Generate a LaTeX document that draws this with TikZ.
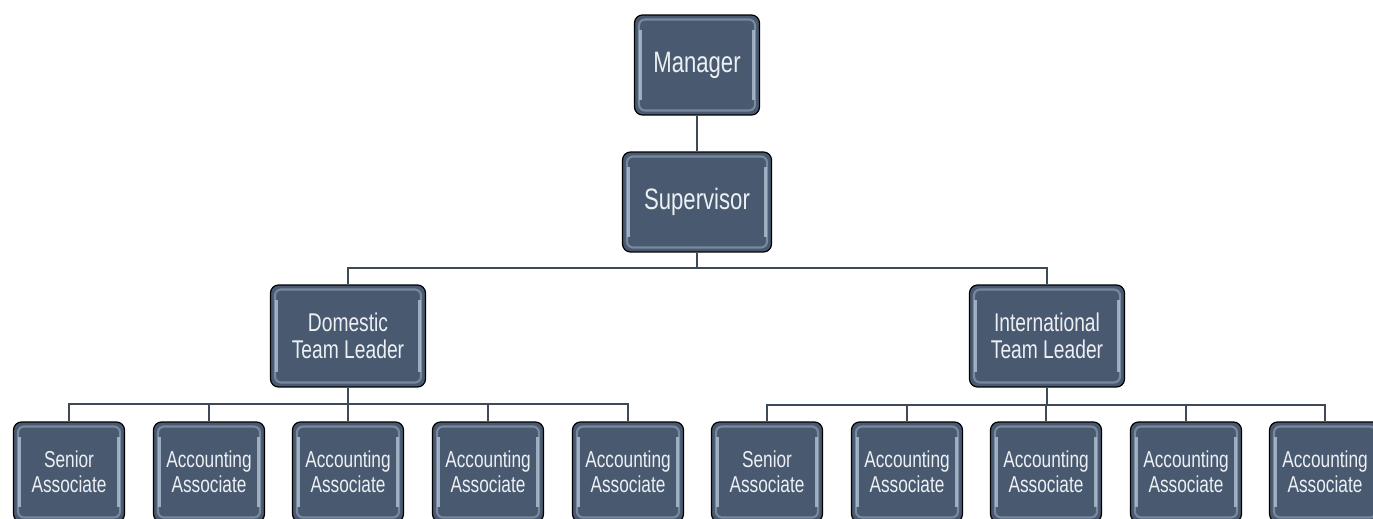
\documentclass[tikz,border=0pt]{standalone}
\usepackage{fontspec}
\newfontfamily\boxfont[FakeStretch=0.75]{Liberation Sans}
\usetikzlibrary{positioning,calc}
\definecolor{boxfill}{RGB}{73,89,112}
\definecolor{boxtext}{RGB}{236,240,244}
\definecolor{linkgray}{RGB}{62,74,88}
\definecolor{bevel}{RGB}{178,194,212}

\begin{document}
\begin{tikzpicture}[x=0.02cm,y=-0.02cm,
  post/.style={draw=black,line width=0.7pt,fill=boxfill,rounded corners=0.16cm,
    text=boxtext,align=center,inner sep=1pt,
    path picture={
      \draw[bevel,line width=1.2pt,rounded corners=0.12cm,opacity=0.45]
        ([shift={(0.09cm,-0.09cm)}]path picture bounding box.north west) rectangle
        ([shift={(-0.09cm,0.09cm)}]path picture bounding box.south east);
      \draw[bevel,line width=1.6pt,opacity=0.8]
        ([shift={(0.12cm,-0.3cm)}]path picture bounding box.north west) --
        ([shift={(0.12cm,0.3cm)}]path picture bounding box.south west);
      \draw[bevel,line width=1.6pt,opacity=0.8]
        ([shift={(-0.12cm,-0.3cm)}]path picture bounding box.north east) --
        ([shift={(-0.12cm,0.3cm)}]path picture bounding box.south east);}},
  top/.style={post,minimum height=2cm,font=\boxfont\fontsize{16.8}{18}\selectfont},
  lead/.style={post,minimum width=3.1cm,minimum height=2.04cm,font=\boxfont\fontsize{14.6}{15.3}\selectfont},
  staff/.style={post,minimum width=2.22cm,minimum height=2cm,font=\boxfont\fontsize{13.1}{14.2}\selectfont},
  link/.style={draw=linkgray,line width=1.1pt}]
\clip (0,0) rectangle (1373,518);
\fill[white] (0,0) rectangle (1373,518);

% top of the chart
\node[top,minimum width=2.5cm] (mgr) at (697,65) {Manager};
\node[top,minimum width=2.98cm] (sup) at (697,202) {Supervisor};
\node[lead] (dom) at (348,336) {Domestic\\Team Leader};
\node[lead] (intl) at (1047,336) {International\\Team Leader};

% associates
\foreach \i/\x/\t in {1/69/Senior,2/209/Accounting,3/348/Accounting,4/488/Accounting,5/628/Accounting}
  \node[staff] (d\i) at (\x,472) {\t\\Associate};
\foreach \i/\x/\t in {1/767/Senior,2/907/Accounting,3/1046/Accounting,4/1186/Accounting,5/1325/Accounting}
  \node[staff] (n\i) at (\x,472) {\t\\Associate};

% connectors
\draw[link] (mgr) -- (sup);
\draw[link] (sup.south) -- ++(0,15) coordinate (sbus);
\draw[link] (sbus) -| (dom.north);
\draw[link] (sbus) -| (intl.north);
\draw[link] (dom.south) -- ++(0,16) coordinate (dbus);
\foreach \i in {1,...,5}
  \draw[link] (dbus) -| (d\i.north);
\draw[link] (intl.south) -- ++(0,17) coordinate (nbus);
\foreach \i in {1,...,5}
  \draw[link] (nbus) -| (n\i.north);
\end{tikzpicture}
\end{document}
